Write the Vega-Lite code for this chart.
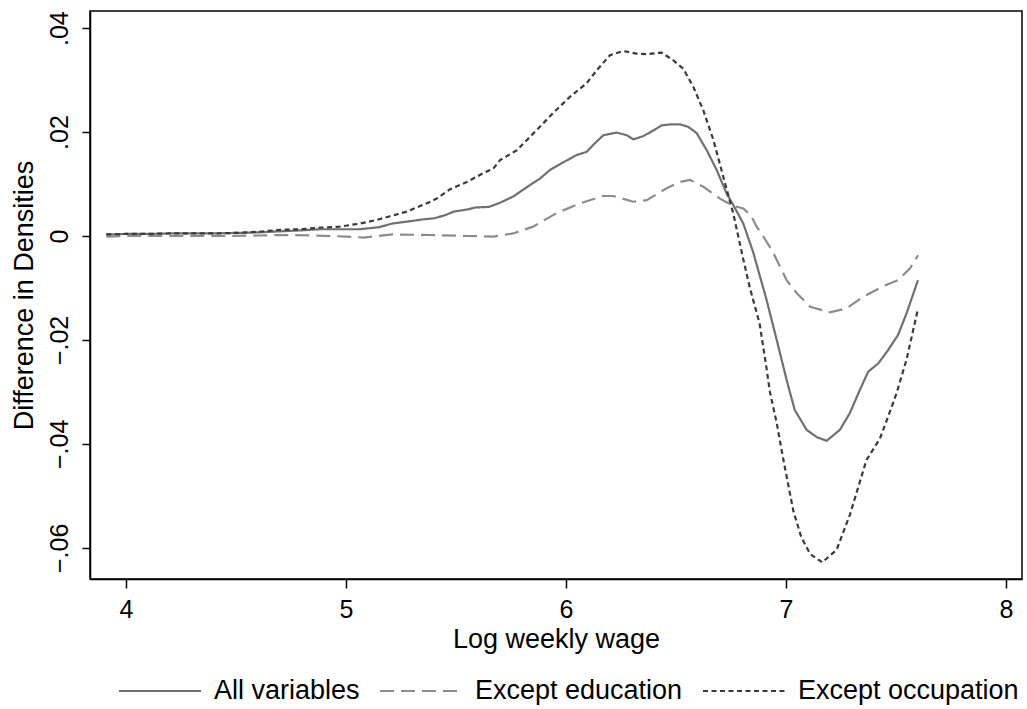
{
  "$schema": "https://vega.github.io/schema/vega-lite/v6.json",
  "width": 932,
  "height": 568,
  "autosize": {"type": "none"},
  "padding": {"left": 90, "top": 11, "right": 5, "bottom": 130},
  "background": "white",
  "config": {
    "font": "Liberation Sans",
    "view": {"stroke": "#000", "strokeWidth": 1.5},
    "axis": {
      "grid": false,
      "domainColor": "#000",
      "domainWidth": 1.5,
      "tickColor": "#000",
      "tickWidth": 1.5,
      "labelColor": "#000",
      "labelFontSize": 25,
      "titleColor": "#000",
      "titleFontSize": 27,
      "titleFontWeight": "normal"
    }
  },
  "data": {
    "values": [
      {"x": 3.91, "y": 0.0003, "series": "All variables"},
      {"x": 4.0, "y": 0.0004, "series": "All variables"},
      {"x": 4.1, "y": 0.0004, "series": "All variables"},
      {"x": 4.2, "y": 0.0005, "series": "All variables"},
      {"x": 4.3, "y": 0.0005, "series": "All variables"},
      {"x": 4.4, "y": 0.0005, "series": "All variables"},
      {"x": 4.5, "y": 0.0006, "series": "All variables"},
      {"x": 4.6, "y": 0.0007, "series": "All variables"},
      {"x": 4.7, "y": 0.0009, "series": "All variables"},
      {"x": 4.8, "y": 0.0011, "series": "All variables"},
      {"x": 4.88, "y": 0.0013, "series": "All variables"},
      {"x": 4.97, "y": 0.0013, "series": "All variables"},
      {"x": 5.06, "y": 0.0013, "series": "All variables"},
      {"x": 5.15, "y": 0.0017, "series": "All variables"},
      {"x": 5.21, "y": 0.0024, "series": "All variables"},
      {"x": 5.3, "y": 0.0029, "series": "All variables"},
      {"x": 5.35, "y": 0.0032, "series": "All variables"},
      {"x": 5.4, "y": 0.0034, "series": "All variables"},
      {"x": 5.45, "y": 0.004, "series": "All variables"},
      {"x": 5.49, "y": 0.0047, "series": "All variables"},
      {"x": 5.55, "y": 0.0051, "series": "All variables"},
      {"x": 5.59, "y": 0.0055, "series": "All variables"},
      {"x": 5.65, "y": 0.0056, "series": "All variables"},
      {"x": 5.7, "y": 0.0064, "series": "All variables"},
      {"x": 5.76, "y": 0.0076, "series": "All variables"},
      {"x": 5.836, "y": 0.0098, "series": "All variables"},
      {"x": 5.88, "y": 0.011, "series": "All variables"},
      {"x": 5.927, "y": 0.0127, "series": "All variables"},
      {"x": 5.98, "y": 0.014, "series": "All variables"},
      {"x": 6.049, "y": 0.0156, "series": "All variables"},
      {"x": 6.094, "y": 0.0162, "series": "All variables"},
      {"x": 6.13, "y": 0.0178, "series": "All variables"},
      {"x": 6.17, "y": 0.0194, "series": "All variables"},
      {"x": 6.23, "y": 0.0199, "series": "All variables"},
      {"x": 6.276, "y": 0.0194, "series": "All variables"},
      {"x": 6.306, "y": 0.0186, "series": "All variables"},
      {"x": 6.35, "y": 0.0192, "series": "All variables"},
      {"x": 6.397, "y": 0.0203, "series": "All variables"},
      {"x": 6.435, "y": 0.0213, "series": "All variables"},
      {"x": 6.48, "y": 0.0215, "series": "All variables"},
      {"x": 6.518, "y": 0.0215, "series": "All variables"},
      {"x": 6.556, "y": 0.021, "series": "All variables"},
      {"x": 6.594, "y": 0.0198, "series": "All variables"},
      {"x": 6.64, "y": 0.0165, "series": "All variables"},
      {"x": 6.685, "y": 0.0127, "series": "All variables"},
      {"x": 6.73, "y": 0.0082, "series": "All variables"},
      {"x": 6.76, "y": 0.006, "series": "All variables"},
      {"x": 6.806, "y": 0.0024, "series": "All variables"},
      {"x": 6.85, "y": -0.003, "series": "All variables"},
      {"x": 6.91, "y": -0.012, "series": "All variables"},
      {"x": 6.958, "y": -0.02, "series": "All variables"},
      {"x": 7.003, "y": -0.0277, "series": "All variables"},
      {"x": 7.04, "y": -0.0335, "series": "All variables"},
      {"x": 7.094, "y": -0.0373, "series": "All variables"},
      {"x": 7.14, "y": -0.0387, "series": "All variables"},
      {"x": 7.185, "y": -0.0394, "series": "All variables"},
      {"x": 7.245, "y": -0.0373, "series": "All variables"},
      {"x": 7.29, "y": -0.0341, "series": "All variables"},
      {"x": 7.336, "y": -0.0296, "series": "All variables"},
      {"x": 7.374, "y": -0.0261, "series": "All variables"},
      {"x": 7.42, "y": -0.0245, "series": "All variables"},
      {"x": 7.465, "y": -0.0219, "series": "All variables"},
      {"x": 7.51, "y": -0.019, "series": "All variables"},
      {"x": 7.548, "y": -0.0149, "series": "All variables"},
      {"x": 7.6, "y": -0.0085, "series": "All variables"},

      {"x": 3.91, "y": -0.0001, "series": "Except education"},
      {"x": 4.0, "y": 0.0, "series": "Except education"},
      {"x": 4.2, "y": 0.0, "series": "Except education"},
      {"x": 4.4, "y": 0.0, "series": "Except education"},
      {"x": 4.6, "y": 0.0001, "series": "Except education"},
      {"x": 4.7, "y": 0.0002, "series": "Except education"},
      {"x": 4.85, "y": 0.0001, "series": "Except education"},
      {"x": 5.0, "y": -0.0001, "series": "Except education"},
      {"x": 5.08, "y": -0.0003, "series": "Except education"},
      {"x": 5.21, "y": 0.0003, "series": "Except education"},
      {"x": 5.38, "y": 0.0002, "series": "Except education"},
      {"x": 5.55, "y": 0.0, "series": "Except education"},
      {"x": 5.67, "y": -0.0001, "series": "Except education"},
      {"x": 5.76, "y": 0.0005, "series": "Except education"},
      {"x": 5.85, "y": 0.0018, "series": "Except education"},
      {"x": 5.957, "y": 0.0044, "series": "Except education"},
      {"x": 6.064, "y": 0.0063, "series": "Except education"},
      {"x": 6.17, "y": 0.0077, "series": "Except education"},
      {"x": 6.215, "y": 0.0077, "series": "Except education"},
      {"x": 6.306, "y": 0.0066, "series": "Except education"},
      {"x": 6.367, "y": 0.0069, "series": "Except education"},
      {"x": 6.458, "y": 0.0092, "series": "Except education"},
      {"x": 6.518, "y": 0.0104, "series": "Except education"},
      {"x": 6.564, "y": 0.0108, "series": "Except education"},
      {"x": 6.624, "y": 0.0095, "series": "Except education"},
      {"x": 6.7, "y": 0.0072, "series": "Except education"},
      {"x": 6.76, "y": 0.0058, "series": "Except education"},
      {"x": 6.806, "y": 0.0053, "series": "Except education"},
      {"x": 6.84, "y": 0.004, "series": "Except education"},
      {"x": 6.867, "y": 0.0018, "series": "Except education"},
      {"x": 6.897, "y": -0.0001, "series": "Except education"},
      {"x": 6.94, "y": -0.003, "series": "Except education"},
      {"x": 6.958, "y": -0.0046, "series": "Except education"},
      {"x": 7.003, "y": -0.0085, "series": "Except education"},
      {"x": 7.049, "y": -0.011, "series": "Except education"},
      {"x": 7.11, "y": -0.0136, "series": "Except education"},
      {"x": 7.2, "y": -0.0147, "series": "Except education"},
      {"x": 7.276, "y": -0.0139, "series": "Except education"},
      {"x": 7.35, "y": -0.0117, "series": "Except education"},
      {"x": 7.44, "y": -0.0097, "series": "Except education"},
      {"x": 7.51, "y": -0.0085, "series": "Except education"},
      {"x": 7.564, "y": -0.0062, "series": "Except education"},
      {"x": 7.6, "y": -0.0037, "series": "Except education"},

      {"x": 3.91, "y": 0.0003, "series": "Except occupation"},
      {"x": 4.0, "y": 0.0004, "series": "Except occupation"},
      {"x": 4.1, "y": 0.0004, "series": "Except occupation"},
      {"x": 4.2, "y": 0.0005, "series": "Except occupation"},
      {"x": 4.3, "y": 0.0005, "series": "Except occupation"},
      {"x": 4.4, "y": 0.0005, "series": "Except occupation"},
      {"x": 4.5, "y": 0.0006, "series": "Except occupation"},
      {"x": 4.6, "y": 0.0008, "series": "Except occupation"},
      {"x": 4.7, "y": 0.0012, "series": "Except occupation"},
      {"x": 4.79, "y": 0.0013, "series": "Except occupation"},
      {"x": 4.88, "y": 0.0016, "series": "Except occupation"},
      {"x": 4.97, "y": 0.0018, "series": "Except occupation"},
      {"x": 5.064, "y": 0.0024, "series": "Except occupation"},
      {"x": 5.14, "y": 0.0031, "series": "Except occupation"},
      {"x": 5.2, "y": 0.0038, "series": "Except occupation"},
      {"x": 5.276, "y": 0.0047, "series": "Except occupation"},
      {"x": 5.367, "y": 0.0063, "series": "Except occupation"},
      {"x": 5.412, "y": 0.0072, "series": "Except occupation"},
      {"x": 5.473, "y": 0.009, "series": "Except occupation"},
      {"x": 5.549, "y": 0.0104, "series": "Except occupation"},
      {"x": 5.624, "y": 0.0121, "series": "Except occupation"},
      {"x": 5.67, "y": 0.013, "series": "Except occupation"},
      {"x": 5.7, "y": 0.0146, "series": "Except occupation"},
      {"x": 5.776, "y": 0.0165, "series": "Except occupation"},
      {"x": 5.867, "y": 0.0204, "series": "Except occupation"},
      {"x": 5.94, "y": 0.0236, "series": "Except occupation"},
      {"x": 6.018, "y": 0.0268, "series": "Except occupation"},
      {"x": 6.094, "y": 0.0294, "series": "Except occupation"},
      {"x": 6.14, "y": 0.0319, "series": "Except occupation"},
      {"x": 6.2, "y": 0.0348, "series": "Except occupation"},
      {"x": 6.26, "y": 0.0356, "series": "Except occupation"},
      {"x": 6.32, "y": 0.0351, "series": "Except occupation"},
      {"x": 6.367, "y": 0.035, "series": "Except occupation"},
      {"x": 6.435, "y": 0.0353, "series": "Except occupation"},
      {"x": 6.488, "y": 0.0338, "series": "Except occupation"},
      {"x": 6.533, "y": 0.0322, "series": "Except occupation"},
      {"x": 6.579, "y": 0.0287, "series": "Except occupation"},
      {"x": 6.624, "y": 0.0242, "series": "Except occupation"},
      {"x": 6.67, "y": 0.0185, "series": "Except occupation"},
      {"x": 6.715, "y": 0.0114, "series": "Except occupation"},
      {"x": 6.76, "y": 0.0044, "series": "Except occupation"},
      {"x": 6.806, "y": -0.0045, "series": "Except occupation"},
      {"x": 6.836, "y": -0.01, "series": "Except occupation"},
      {"x": 6.88, "y": -0.0168, "series": "Except occupation"},
      {"x": 6.91, "y": -0.025, "series": "Except occupation"},
      {"x": 6.927, "y": -0.03, "series": "Except occupation"},
      {"x": 6.958, "y": -0.036, "series": "Except occupation"},
      {"x": 6.988, "y": -0.043, "series": "Except occupation"},
      {"x": 7.034, "y": -0.053, "series": "Except occupation"},
      {"x": 7.07, "y": -0.058, "series": "Except occupation"},
      {"x": 7.11, "y": -0.0612, "series": "Except occupation"},
      {"x": 7.165, "y": -0.0628, "series": "Except occupation"},
      {"x": 7.23, "y": -0.0604, "series": "Except occupation"},
      {"x": 7.29, "y": -0.0537, "series": "Except occupation"},
      {"x": 7.366, "y": -0.0431, "series": "Except occupation"},
      {"x": 7.427, "y": -0.039, "series": "Except occupation"},
      {"x": 7.47, "y": -0.0341, "series": "Except occupation"},
      {"x": 7.503, "y": -0.0302, "series": "Except occupation"},
      {"x": 7.548, "y": -0.0238, "series": "Except occupation"},
      {"x": 7.6, "y": -0.014, "series": "Except occupation"}
    ]
  },
  "mark": {"type": "line", "strokeWidth": 2.2},
  "encoding": {
    "x": {
      "field": "x",
      "type": "quantitative",
      "scale": {"domain": [3.836, 8.073], "nice": false, "zero": false},
      "axis": {
        "title": "Log weekly wage",
        "values": [4, 5, 6, 7, 8],
        "format": "d",
        "tickSize": 9,
        "labelPadding": 9,
        "titlePadding": 4
      }
    },
    "y": {
      "field": "y",
      "type": "quantitative",
      "scale": {"domain": [-0.066, 0.0433], "nice": false, "zero": false},
      "axis": {
        "title": "Difference in Densities",
        "values": [-0.06, -0.04, -0.02, 0, 0.02, 0.04],
        "labelExpr": "datum.value == 0 ? '0' : replace(format(datum.value, '.2f'), '0.', '.')",
        "tickSize": 8,
        "labelAngle": 270,
        "labelAlign": "center",
        "labelBaseline": "bottom",
        "labelPadding": 10,
        "titlePadding": 9
      }
    },
    "color": {
      "field": "series",
      "type": "nominal",
      "scale": {
        "domain": ["All variables", "Except education", "Except occupation"],
        "range": ["#707070", "#8c8c8c", "#3a3a3a"]
      },
      "legend": {
        "title": null,
        "orient": "none",
        "legendX": 28,
        "legendY": 638,
        "direction": "horizontal",
        "symbolType": "stroke",
        "symbolSize": 6724,
        "symbolStrokeWidth": 2,
        "labelFontSize": 27,
        "labelColor": "#000",
        "labelLimit": 500,
        "labelOffset": 12,
        "columnPadding": 16,
        "padding": 0
      }
    },
    "strokeDash": {
      "field": "series",
      "type": "nominal",
      "scale": {
        "domain": ["All variables", "Except education", "Except occupation"],
        "range": [[1, 0], [14, 7], [5, 3.5]]
      },
      "legend": {
        "title": null,
        "orient": "none",
        "legendX": 28,
        "legendY": 638,
        "direction": "horizontal",
        "symbolType": "stroke",
        "symbolSize": 6724,
        "symbolStrokeWidth": 2,
        "labelFontSize": 27,
        "labelColor": "#000",
        "labelLimit": 500,
        "labelOffset": 12,
        "columnPadding": 16,
        "padding": 0
      }
    }
  }
}
